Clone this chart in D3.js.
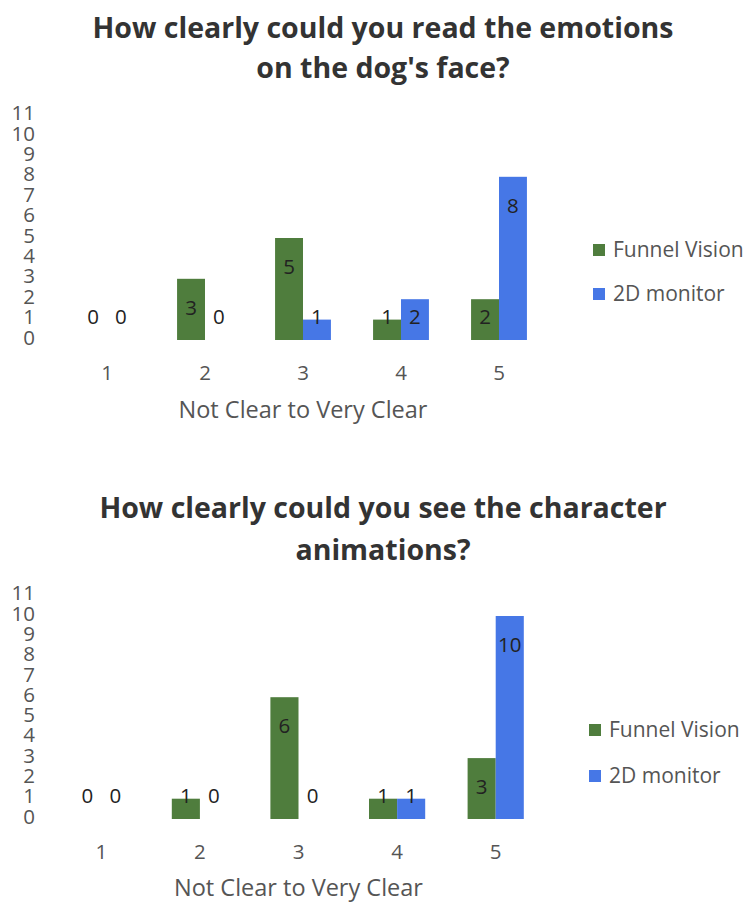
<!DOCTYPE html>
<head>
<meta charset="UTF-8">
<title>Funnel Vision survey</title>
<style>
body { margin: 0; background: #fff; }
.title { font: bold 28.5px "Open Sans", sans-serif; fill: #333; }
.tick text { font: 20.5px "Open Sans", sans-serif; fill: #555; }
.axis-title { font: 23.5px "Open Sans", sans-serif; fill: #555; }
.value { font: 20.5px "Open Sans", sans-serif; fill: #222; }
.legend text { font: 21px "Open Sans", sans-serif; fill: #555; }
</style>
<body>
<script src="https://cdn.jsdelivr.net/npm/d3@7"></script>
<script>

// data
var categories = ["1", "2", "3", "4", "5"];
var series = ["Funnel Vision", "2D monitor"];
var colors = ["#4f7d3d", "#4677e6"];
var yTicks = [0, 1, 2, 3, 4, 5, 6, 7, 8, 9, 10, 11];

var emotionsFunnel = [0, 3, 5, 1, 2];
var emotionsMonitor = [0, 0, 1, 2, 8];

var animationsFunnel = [0, 1, 6, 1, 3];
var animationsMonitor = [0, 0, 0, 1, 10];

var svg = d3.select("body").append("svg")
    .attr("width", 746)
    .attr("height", 904);

// one chart per question
drawChart({
  title: ["How clearly could you read the emotions", "on the dog's face?"],
  titleY: [38, 78],
  values: [emotionsFunnel, emotionsMonitor],
  xRange: [58, 548],
  yRange: [340, 115.6],
  tickY: 380,
  axisTitleY: 418,
  legendX: 593,
  legendY: [250, 294]
});

drawChart({
  title: ["How clearly could you see the character", "animations?"],
  titleY: [518, 560],
  values: [animationsFunnel, animationsMonitor],
  xRange: [52, 545],
  yRange: [819, 595.7],
  tickY: 859,
  axisTitleY: 896,
  legendX: 589,
  legendY: [730, 776]
});

function drawChart(c) {

  var g = svg.append("g");

  // title, two centred lines
  g.selectAll("text.title")
    .data(c.title)
    .enter().append("text")
      .attr("class", "title")
      .attr("x", 383)
      .attr("y", function(d, i) { return c.titleY[i]; })
      .attr("text-anchor", "middle")
      .text(function(d) { return d; });

  var x = d3.scaleBand()
      .domain(categories)
      .range(c.xRange)
      .paddingInner(0.43)
      .paddingOuter(0.215);

  var xs = d3.scaleBand()
      .domain(d3.range(series.length))
      .range([0, x.bandwidth()]);

  var y = d3.scaleLinear()
      .domain([0, 11])
      .range(c.yRange);

  // y axis: labels only, no line
  var yAxis = g.append("g")
      .attr("transform", "translate(35,0)")
      .call(d3.axisLeft(y).tickValues(yTicks).tickSize(0).tickPadding(0));
  yAxis.select(".domain").remove();
  yAxis.selectAll(".tick text").attr("dy", "0.2em");

  // x axis: labels only
  var xAxis = g.append("g")
      .attr("transform", "translate(0," + c.tickY + ")")
      .call(d3.axisBottom(x).tickSize(0).tickPadding(0));
  xAxis.select(".domain").remove();
  xAxis.selectAll(".tick text").attr("dy", "0");

  g.append("text")
      .attr("class", "axis-title")
      .attr("x", (x("1") + x("5") + x.bandwidth()) / 2)
      .attr("y", c.axisTitleY)
      .attr("text-anchor", "middle")
      .text("Not Clear to Very Clear");

  // flatten into bar records
  var bars = [];
  categories.forEach(function(cat, i) {
    series.forEach(function(s, j) {
      bars.push({ cat: cat, s: j, v: c.values[j][i] });
    });
  });

  g.selectAll("rect.bar")
    .data(bars)
    .enter().append("rect")
      .attr("class", "bar")
      .attr("x", function(d) { return x(d.cat) + xs(d.s); })
      .attr("y", function(d) { return y(d.v); })
      .attr("width", xs.bandwidth())
      .attr("height", function(d) { return y(0) - y(d.v); })
      .attr("fill", function(d) { return colors[d.s]; });

  // value labels sit inside the bar end, or just above the baseline for short bars
  g.selectAll("text.value")
    .data(bars)
    .enter().append("text")
      .attr("class", "value")
      .attr("x", function(d) { return x(d.cat) + xs(d.s) + xs.bandwidth() / 2; })
      .attr("y", function(d) { return Math.min(y(d.v) + 29, y(0) - 23); })
      .attr("dy", "0.35em")
      .attr("text-anchor", "middle")
      .text(function(d) { return d.v; });

  // legend
  var legend = g.selectAll("g.legend")
    .data(series)
    .enter().append("g")
      .attr("class", "legend")
      .attr("transform", function(d, i) {
        return "translate(" + c.legendX + "," + c.legendY[i] + ")";
      });

  legend.append("rect")
      .attr("x", 0)
      .attr("y", -6)
      .attr("width", 12)
      .attr("height", 12)
      .attr("fill", function(d, i) { return colors[i]; });

  legend.append("text")
      .attr("x", 20)
      .attr("dy", "0.35em")
      .text(function(d) { return d; });
}

</script>
</body>
